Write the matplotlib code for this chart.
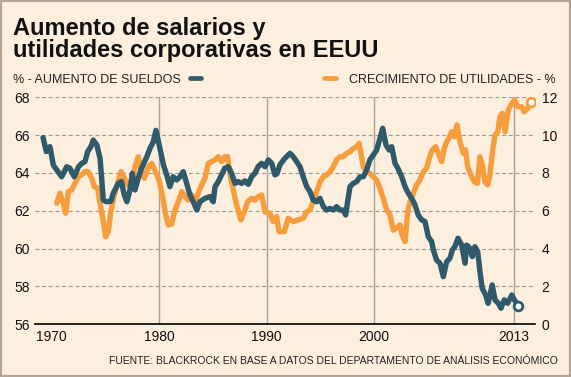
import matplotlib
matplotlib.use("Agg")
import matplotlib.pyplot as plt
from matplotlib import font_manager
from matplotlib.lines import Line2D
from matplotlib.patches import Rectangle

plt.rcParams['font.family'] = ['Liberation Sans', 'DejaVu Sans']

# ---------------- data ----------------
title_lines = ["Aumento de salarios y", "utilidades corporativas en EEUU"]
legend_left = "% - AUMENTO DE SUELDOS"
legend_right = "CRECIMIENTO DE UTILIDADES - %"
source = "FUENTE: BLACKROCK EN BASE A DATOS DEL DEPARTAMENTO DE ANÁLISIS ECONÓMICO"

x_ticks = [1970, 1980, 1990, 2000, 2013]
x_tick_labels = ["1970", "1980", "1990", "2000", "2013"]
v_lines = [1980, 1990, 2000, 2013]
left_ticks = [56, 58, 60, 62, 64, 66, 68]
right_ticks = [0, 2, 4, 6, 8, 10, 12]

wage_years = [
    1969.2, 1969.5, 1969.84, 1970.15, 1970.47, 1970.93, 1971.4, 1971.7, 1972.1, 1972.5,
    1972.8, 1973.1, 1973.35, 1973.65, 1973.87, 1974.2, 1974.5, 1974.65, 1974.8, 1975.1,
    1975.5, 1975.73, 1976.2, 1976.5, 1976.75, 1977.0, 1977.28, 1977.5, 1977.75, 1978.05,
    1978.3, 1978.5, 1978.85, 1979.15, 1979.45, 1979.7, 1980.07, 1980.4, 1980.7, 1981.0,
    1981.3, 1981.63, 1981.93, 1982.24, 1982.56, 1982.86, 1983.17, 1983.5, 1983.8, 1984.26,
    1984.73, 1985.03, 1985.2, 1985.5, 1985.8, 1986.1, 1986.43, 1986.74, 1987.05, 1987.36,
    1987.67, 1987.98, 1988.29, 1988.6, 1988.9, 1989.2, 1989.53, 1989.84, 1990.15, 1990.47,
    1990.77, 1990.95, 1991.25, 1991.7, 1992.17, 1992.47, 1992.79, 1993.1, 1993.4, 1993.72,
    1994.03, 1994.33, 1994.65, 1994.96, 1995.27, 1995.58, 1995.89, 1996.2, 1996.5, 1996.82,
    1997.12, 1997.35, 1997.53, 1997.75, 1998.06, 1998.37, 1998.68, 1998.99, 1999.3, 1999.6,
    1999.92, 2000.23, 2000.54, 2000.79, 2001.1, 2001.4, 2001.63, 2001.94, 2002.2, 2002.56,
    2002.87, 2003.17, 2003.49, 2003.8, 2004.1, 2004.42, 2004.73, 2005.03, 2005.35, 2005.5,
    2005.8, 2006.12, 2006.43, 2006.74, 2007.05, 2007.27, 2007.5, 2007.8, 2008.14, 2008.45,
    2008.6, 2008.9, 2009.13, 2009.37, 2009.63, 2009.84, 2010.05, 2010.37, 2010.6, 2010.98,
    2011.24, 2011.55, 2011.8, 2012.1, 2012.42, 2012.8, 2013.04, 2013.4]
wage_values = [
    65.87, 65.13, 65.39, 64.42, 64.16, 63.80, 64.33, 64.25, 63.80, 64.33,
    64.51, 64.60, 65.13, 65.39, 65.74, 65.48, 64.78, 63.72, 62.57, 62.48,
    62.50, 62.93, 63.45, 63.54, 62.84, 62.48, 63.10, 63.98, 63.10, 63.72,
    64.16, 64.42, 64.86, 65.30, 65.65, 66.25, 65.30, 64.42, 63.90, 63.28,
    63.80, 63.63, 63.80, 64.07, 63.45, 62.84, 62.48, 62.04, 62.48, 62.66,
    62.75, 62.48, 63.28, 63.54, 63.90, 64.25, 64.33, 63.98, 63.45, 63.54,
    63.45, 63.58, 63.40, 63.80, 63.98, 64.33, 64.51, 64.33, 64.69, 64.51,
    63.90, 63.95, 64.45, 64.78, 65.04, 64.86, 64.60, 64.33, 63.80, 63.28,
    63.01, 62.57, 62.48, 62.66, 62.22, 62.04, 62.13, 62.04, 62.22, 62.04,
    62.04, 61.78, 62.48, 63.28, 63.45, 63.54, 63.80, 63.80, 64.16, 64.69,
    64.95, 65.21, 65.83, 66.36, 65.48, 65.21, 65.39, 64.51, 64.25, 63.80,
    63.28, 62.93, 62.66, 62.31, 61.78, 61.52, 61.43, 60.63, 60.37, 59.93,
    59.40, 59.23, 58.52, 59.31, 59.49, 59.93, 60.10, 60.55, 60.19, 59.23,
    60.19, 60.02, 59.58, 60.10, 59.84, 58.78, 57.90, 57.55, 57.11, 58.08,
    57.29, 57.11, 56.85, 57.29, 57.11, 57.55, 57.29, 56.99]

profit_years = [
    1970.47, 1970.77, 1971.08, 1971.3, 1971.55, 1971.86, 1972.17, 1972.47, 1972.8, 1973.1,
    1973.4, 1973.72, 1973.96, 1974.28, 1974.58, 1974.8, 1975.02, 1975.26, 1975.5, 1975.83,
    1976.14, 1976.45, 1976.75, 1977.07, 1977.44, 1977.75, 1978.06, 1978.3, 1978.62, 1979.0,
    1979.3, 1979.67, 1980.0, 1980.3, 1980.6, 1980.85, 1981.16, 1981.47, 1981.78, 1982.1,
    1982.4, 1982.7, 1983.02, 1983.33, 1983.64, 1983.95, 1984.26, 1984.57, 1984.88, 1985.2,
    1985.5, 1985.8, 1986.12, 1986.37, 1986.59, 1986.9, 1987.2, 1987.6, 1987.92, 1988.23,
    1988.6, 1988.91, 1989.22, 1989.53, 1989.84, 1990.3, 1990.6, 1990.93, 1991.15, 1991.4,
    1991.64, 1992.0, 1992.47, 1992.94, 1993.4, 1993.72, 1994.03, 1994.33, 1994.65, 1994.96,
    1995.27, 1995.58, 1995.89, 1996.2, 1996.5, 1996.82, 1997.12, 1997.44, 1997.75, 1998.06,
    1998.37, 1998.6, 1998.77, 1998.99, 1999.3, 1999.6, 1999.92, 2000.23, 2000.54, 2000.85,
    2001.16, 2001.47, 2001.78, 2002.1, 2002.4, 2002.6, 2002.87, 2003.12, 2003.33, 2003.64,
    2003.95, 2004.26, 2004.57, 2004.88, 2005.12, 2005.4, 2005.72, 2006.03, 2006.28, 2006.52,
    2006.74, 2006.96, 2007.2, 2007.45, 2007.7, 2007.98, 2008.29, 2008.5, 2008.7, 2009.0,
    2009.3, 2009.6, 2009.84, 2010.05, 2010.3, 2010.56, 2010.77, 2011.0, 2011.24, 2011.5,
    2011.7, 2011.92, 2012.17, 2012.48, 2012.8, 2013.04, 2013.36, 2013.72, 2013.96, 2014.28,
    2014.56]
profit_values = [
    6.40, 6.93, 6.40, 5.87, 7.01, 7.10, 7.45, 7.80, 7.90, 8.07,
    8.07, 7.72, 7.28, 7.19, 6.13, 5.43, 4.63, 4.90, 5.95, 6.84,
    7.45, 8.07, 7.72, 7.37, 7.54, 8.33, 8.86, 8.16, 7.72, 8.33,
    8.51, 8.05, 7.60, 6.80, 5.80, 5.25, 5.30, 6.04, 6.48, 7.01,
    6.75, 6.57, 6.84, 6.48, 6.93, 7.37, 7.72, 8.51, 8.60, 8.69,
    8.86, 8.60, 8.86, 8.86, 7.90, 7.10, 6.31, 5.52, 5.95, 6.48,
    6.66, 6.57, 6.75, 6.84, 5.95, 5.87, 5.43, 5.69, 4.90, 4.90,
    4.90, 5.60, 5.43, 5.52, 5.60, 5.95, 6.04, 6.48, 7.01, 7.54,
    7.80, 7.90, 8.07, 8.33, 8.69, 8.86, 8.86, 9.04, 9.12, 9.30,
    9.39, 9.57, 9.04, 8.33, 8.07, 7.98, 7.80, 7.63, 7.19, 6.66,
    6.04, 5.78, 4.98, 5.10, 5.25, 4.72, 4.37, 5.95, 6.48, 6.93,
    7.37, 7.63, 8.07, 8.25, 8.78, 9.21, 9.39, 8.95, 8.60, 9.30,
    9.65, 9.83, 10.18, 9.92, 10.54, 9.65, 9.04, 9.21, 8.33, 7.90,
    7.54, 7.45, 8.86, 8.42, 7.54, 7.37, 7.90, 9.12, 10.00, 10.18,
    10.97, 11.15, 10.18, 11.33, 11.68, 11.86, 11.50, 11.50, 11.24, 11.42,
    11.74]

# ---------------- style ----------------
BG = '#FCEFDE'
BLUE = '#2F5A6C'
ORANGE = '#F89D3E'
GRID = '#9A9690'
VLINE = '#A8A199'

installed = {f.name for f in font_manager.fontManager.ttflist}
if 'Liberation Sans Narrow' in installed:
    src_family = ['Liberation Sans Narrow', 'DejaVu Sans']
    src_size = 9.0
else:
    src_family = ['Liberation Sans', 'DejaVu Sans']
    src_size = 7.5

W, H = 571, 377
fig = plt.figure(figsize=(W / 100, H / 100), dpi=100, facecolor=BG)

def fx(px):
    return px / W

def fy(py):
    return 1 - py / H

ax = fig.add_axes([fx(35), fy(324.3), fx(535) - fx(35), fy(97.3) - fy(324.3)])
ax2 = ax.twinx()
ax.set_zorder(ax2.get_zorder() + 1)
ax.patch.set_visible(False)
ax2.patch.set_facecolor(BG)

ax.set_xlim(1968.45, 2014.96)
ax.set_ylim(56, 68)
ax2.set_ylim(0, 12)

# gridlines
for v in left_ticks[1:]:
    ax2.axhline(v - 56, color=GRID, lw=0.8, ls=(0, (3.5, 2.5)), zorder=1)
for v in v_lines:
    ax2.axvline(v, color=VLINE, lw=1.0, zorder=1)

# series
ax2.plot(profit_years, profit_values, color=ORANGE, lw=3.9, solid_joinstyle='round',
         solid_capstyle='round', zorder=3)
ax2.plot(profit_years[-1], profit_values[-1], 'o', ms=6.3, mfc='white', mec=ORANGE,
         mew=2.0, zorder=4)
ax.plot(wage_years, wage_values, color=BLUE, lw=3.9, solid_joinstyle='round',
        solid_capstyle='round', zorder=3)
ax.plot(wage_years[-1], wage_values[-1], 'o', ms=6.3, mfc='white', mec=BLUE,
        mew=2.0, zorder=4)

# axes styling
for a in (ax, ax2):
    for s in a.spines.values():
        s.set_visible(False)
ax.spines['bottom'].set_visible(True)
ax.spines['bottom'].set_color('black')
ax.spines['bottom'].set_linewidth(1.2)

ax.set_xticks(x_ticks)
ax.set_xticklabels(x_tick_labels)
ax.set_yticks(left_ticks)
ax.set_yticklabels([str(t) for t in left_ticks])
ax2.set_yticks(right_ticks)
ax2.set_yticklabels([str(t) for t in right_ticks])
ax.tick_params(axis='x', length=0, pad=4, labelsize=10, colors='#111111')
ax.tick_params(axis='y', length=0, pad=3.6, labelsize=10, colors='#111111')
ax2.tick_params(axis='y', length=0, pad=4.8, labelsize=10, colors='#111111')

# title and legend
fig.text(fx(12.7), fy(35), title_lines[0], fontsize=17, fontweight='bold',
         va='baseline', ha='left', color='#111111')
fig.text(fx(12.7), fy(56.7), title_lines[1], fontsize=17, fontweight='bold',
         va='baseline', ha='left', color='#111111')
fig.text(fx(12.7), fy(83.2), legend_left, fontsize=9, va='baseline', ha='left',
         color='#222222')
fig.text(fx(555.5), fy(83.2), legend_right, fontsize=9, va='baseline', ha='right',
         color='#222222')
fig.add_artist(Line2D([fx(189.5), fx(200.5)], [fy(78.3), fy(78.3)], color=BLUE,
                      lw=3.4, solid_capstyle='round', transform=fig.transFigure))
fig.add_artist(Line2D([fx(323.5), fx(335.5)], [fy(78.3), fy(78.3)], color=ORANGE,
                      lw=3.4, solid_capstyle='round', transform=fig.transFigure))

fig.text(fx(558.3), fy(363.5), source, fontsize=src_size, family=src_family,
         va='baseline', ha='right', color='#222222')

# border
fig.add_artist(Rectangle((0, 0), 1, 1, transform=fig.transFigure, fill=False,
                         edgecolor='#B8A494', lw=3.0))

fig.savefig('out.png', dpi=100, facecolor=BG)
